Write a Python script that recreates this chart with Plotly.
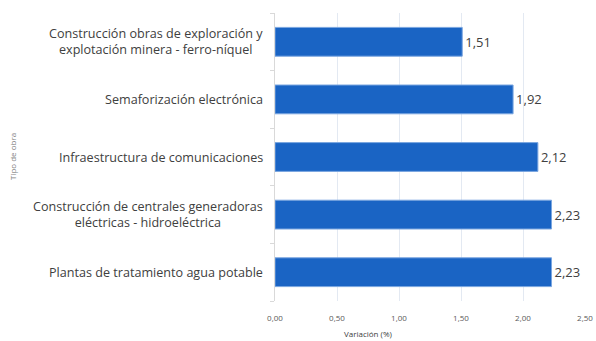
import plotly.graph_objects as go

categories = [
    "Construcción obras de exploración y<br>explotación minera - ferro-níquel",
    "Semaforización electrónica",
    "Infraestructura de comunicaciones",
    "Construcción de centrales generadoras<br>eléctricas - hidroeléctrica",
    "Plantas de tratamiento agua potable",
]
values = [1.51, 1.92, 2.12, 2.23, 2.23]
x_ticks = [0.0, 0.5, 1.0, 1.5, 2.0, 2.5]

FONT = "Open Sans"
BAR = "#1a64c4"

fig = go.Figure()
fig.add_trace(go.Bar(
    y=categories, x=values, orientation="h",
    marker={"color": BAR, "line": {"color": "#7aa6e0", "width": 1}},
    text=[f"{v:.2f}".replace(".", ",") for v in values],
    textposition="outside", cliponaxis=False,
    textfont={"family": FONT, "size": 13, "color": "#404040"},
    width=0.5,
))

# category labels as centered multi-line annotations left of the axis
for cat in categories:
    fig.add_annotation(
        x=0, xref="paper", y=cat, yref="y", text=cat, showarrow=False,
        xanchor="right", align="center", xshift=-10,
        font={"family": FONT, "size": 12.6, "color": "#404040"},
    )

fig.update_layout(
    width=596, height=341,
    margin={"l": 275, "r": 11, "t": 13, "b": 40, "autoexpand": False},
    paper_bgcolor="white", plot_bgcolor="white",
    separators=",.",
    showlegend=False,
    xaxis={
        "range": [0, 2.5], "tickvals": x_ticks, "tickformat": ".2f",
        "showgrid": True, "gridcolor": "#e3e9f2", "gridwidth": 1,
        "zeroline": False, "showline": False, "automargin": False,
        "ticks": "outside", "ticklen": 9, "tickcolor": "rgba(0,0,0,0)",
        "tickfont": {"family": FONT, "size": 8, "color": "#595959"},
    },
    yaxis={
        "categoryorder": "array", "categoryarray": categories[::-1],
        "showticklabels": False, "showgrid": False, "automargin": False,
        "showline": True, "linecolor": "#d9d9d9", "linewidth": 1,
        "ticks": "outside", "ticklen": 4, "tickcolor": "#d9d9d9",
        "tickson": "boundaries",
    },
)

fig.add_annotation(
    x=0, xref="paper", y=0.5, yref="paper", text="Tipo de obra",
    textangle=-90, showarrow=False, xanchor="center",
    xshift=-263,
    font={"family": FONT, "size": 8, "color": "#7f7f7f"},
)
fig.add_annotation(
    x=0.3, xref="paper", y=0, yref="paper", text="Variación (%)",
    showarrow=False, xanchor="center", yanchor="bottom", yshift=-40,
    font={"family": FONT, "size": 8, "color": "#404040"},
)

fig.write_html("out.html", config={"displayModeBar": False},
               post_script="document.body.style.margin='0';")
